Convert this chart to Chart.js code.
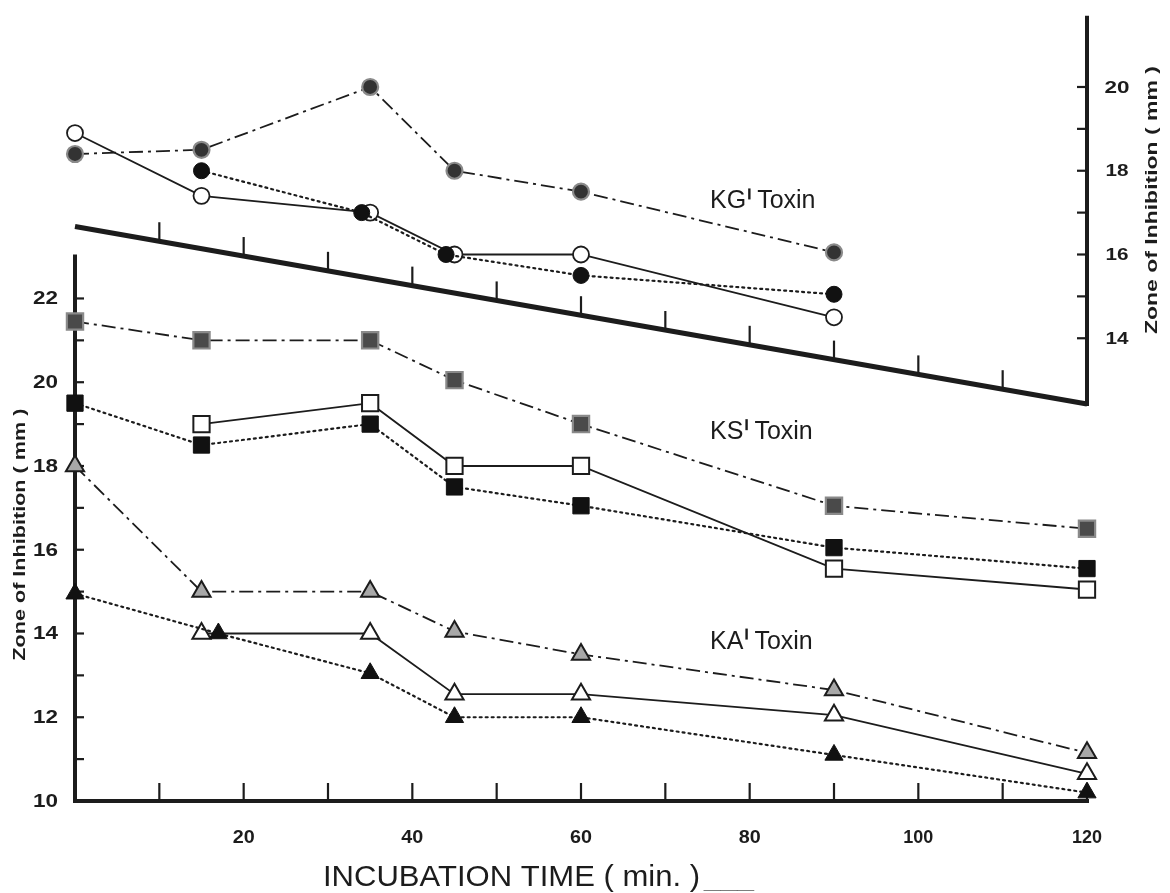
<!DOCTYPE html>
<html>
<head>
<meta charset="utf-8">
<script src="https://cdn.jsdelivr.net/npm/chart.js@4.4.0/dist/chart.umd.min.js"></script>
<style>
  html, body { margin: 0; padding: 0; background: #fff; }
  #wrap { width: 1170px; height: 893px; }
</style>
</head>
<body>
<div id="wrap"><canvas id="chart" width="1170" height="893"></canvas></div>
<script>
// --- data (minutes / zone of inhibition in mm) ---
const kgTimes = [0, 15, 35, 45, 60, 90];
const kgOpen = [18.9, 17.4, 17.0, 16.0, 16.0, 14.5];
const kgGrey = [18.4, 18.5, 20.0, 18.0, 17.5, 16.05];
const kgFilledTimes = [15, 34, 44, 60, 90];
const kgFilled = [18.0, 17.0, 16.0, 15.5, 15.05];

const ksTimes = [0, 15, 35, 45, 60, 90, 120];
const ksGrey = [21.45, 21.0, 21.0, 20.05, 19.0, 17.05, 16.5];
const ksFilled = [19.5, 18.5, 19.0, 17.5, 17.05, 16.05, 15.55];
const ksOpenTimes = [15, 35, 45, 60, 90, 120];
const ksOpen = [19.0, 19.5, 18.0, 18.0, 15.55, 15.05];

const kaTimes = [0, 15, 35, 45, 60, 90, 120];
const kaGrey = [18.0, 15.0, 15.0, 14.05, 13.5, 12.65, 11.15];
const kaFilledTimes = [0, 17, 35, 45, 60, 90, 120];
const kaFilled = [14.95, 14.0, 13.05, 12.0, 12.0, 11.1, 10.2];
const kaOpenTimes = [15, 35, 45, 60, 90, 120];
const kaOpen = [14.0, 14.0, 12.55, 12.55, 12.05, 10.65];

// axis ticks
const xMinorTicks = [10, 20, 30, 40, 50, 60, 70, 80, 90, 100, 110, 120];
const xLabels = [20, 40, 60, 80, 100, 120];
const leftTicks = [11, 12, 13, 14, 15, 16, 17, 18, 19, 20, 21, 22];
const leftLabels = [10, 12, 14, 16, 18, 20, 22];
const rightTicks = [14, 15, 16, 17, 18, 19, 20];
const rightLabels = [14, 16, 18, 20];

const zip = (xs, ys) => xs.map((x, i) => ({ x: x, y: ys[i] }));

const INK = '#1c1c1c';
const SOLID = [];
const DOTTED = [2, 4];
const DASHDOT = [14, 5, 3, 5];

function series(label, data, axis, dash, style, radius, fill, border, bw) {
  return {
    label: label,
    data: data,
    yAxisID: axis,
    borderColor: INK,
    borderWidth: dash === DOTTED ? 2.2 : 1.8,
    borderDash: dash,
    borderCapStyle: dash === DOTTED ? 'round' : 'butt',
    pointStyle: style,
    pointRadius: radius,
    pointBackgroundColor: fill,
    pointBorderColor: border,
    pointBorderWidth: bw,
    tension: 0,
    fill: false,
    clip: false
  };
}

const datasets = [
  series('KG grey', zip(kgTimes, kgGrey), 'y2', DASHDOT, 'circle', 8, '#333', '#8a8a8a', 2.2),
  series('KG filled', zip(kgFilledTimes, kgFilled), 'y2', DOTTED, 'circle', 8, '#111', '#111', 1),
  series('KG open', zip(kgTimes, kgOpen), 'y2', SOLID, 'circle', 8, '#fff', INK, 1.8),

  series('KS grey', zip(ksTimes, ksGrey), 'y', DASHDOT, 'rect', 11.5, '#4a4a4a', '#8a8a8a', 2.2),
  series('KS filled', zip(ksTimes, ksFilled), 'y', DOTTED, 'rect', 11.5, '#111', '#111', 1),
  series('KS open', zip(ksOpenTimes, ksOpen), 'y', SOLID, 'rect', 11.5, '#fff', INK, 2),

  series('KA grey', zip(kaTimes, kaGrey), 'y', DASHDOT, 'triangle', 10.5, '#a8a8a8', INK, 2),
  series('KA filled', zip(kaFilledTimes, kaFilled), 'y', DOTTED, 'triangle', 10.5, '#111', '#111', 1),
  series('KA open', zip(kaOpenTimes, kaOpen), 'y', SOLID, 'triangle', 10.5, '#fff', INK, 2)
];

// draw text squeezed/stretched to a given width
function fitText(ctx, text, x, y, width, font, align) {
  ctx.save();
  ctx.font = font;
  const w = ctx.measureText(text).width;
  const s = width / w;
  ctx.translate(x, y);
  ctx.scale(s, 1);
  ctx.textAlign = align || 'left';
  ctx.fillText(text, 0, 0);
  ctx.restore();
}

const scanAxes = {
  id: 'scanAxes',
  beforeDatasetsDraw(chart) {
    const ctx = chart.ctx;
    const X = v => chart.scales.x.getPixelForValue(v);
    const Y = v => chart.scales.y.getPixelForValue(v);
    const Y2 = v => chart.scales.y2.getPixelForValue(v);
    const slantFrom = 16.67, slantTo = 12.43; // upper (offset) base line, right-axis units
    const slantAt = m => Y2(slantFrom + (slantTo - slantFrom) * m / 120);

    ctx.save();
    ctx.strokeStyle = INK;
    ctx.fillStyle = INK;
    ctx.lineCap = 'butt';

    // lower frame
    ctx.lineWidth = 4;
    ctx.beginPath();
    ctx.moveTo(X(0), Y(23.05));
    ctx.lineTo(X(0), Y(10));
    ctx.lineTo(X(120) + 2, Y(10));
    ctx.stroke();

    ctx.lineWidth = 2.2;
    xMinorTicks.forEach(m => {
      ctx.beginPath();
      ctx.moveTo(X(m), Y(10));
      ctx.lineTo(X(m), Y(10) - 18);
      ctx.stroke();
    });
    leftTicks.forEach(v => {
      ctx.beginPath();
      ctx.moveTo(X(0), Y(v));
      ctx.lineTo(X(0) + 9, Y(v));
      ctx.stroke();
    });

    // upper offset frame for KG
    ctx.lineWidth = 5;
    ctx.beginPath();
    ctx.moveTo(X(0), slantAt(0));
    ctx.lineTo(X(120), slantAt(120));
    ctx.stroke();
    ctx.lineWidth = 4;
    ctx.beginPath();
    ctx.moveTo(X(120), slantAt(120) + 2);
    ctx.lineTo(X(120), Y2(21.7));
    ctx.stroke();
    ctx.lineWidth = 2.2;
    xMinorTicks.slice(0, 11).forEach(m => {
      ctx.beginPath();
      ctx.moveTo(X(m), slantAt(m));
      ctx.lineTo(X(m), slantAt(m) - 19);
      ctx.stroke();
    });
    rightTicks.forEach(v => {
      ctx.beginPath();
      ctx.moveTo(X(120) - 10, Y2(v));
      ctx.lineTo(X(120), Y2(v));
      ctx.stroke();
    });

    // tick labels
    ctx.textBaseline = 'middle';
    leftLabels.forEach(v => {
      fitText(ctx, String(v), X(0) - 17, Y(v) + 1, 25, 'bold 18px "Liberation Sans", Arial, sans-serif', 'right');
    });
    rightLabels.forEach(v => {
      fitText(ctx, String(v), X(120) + 30, Y2(v) + 1, v < 20 ? 23 : 25, 'bold 17px "Liberation Sans", Arial, sans-serif', 'center');
    });
    xLabels.forEach(m => {
      fitText(ctx, String(m), X(m), Y(10) + 37, m < 100 ? 22 : 30, 'bold 18px "Liberation Sans", Arial, sans-serif', 'center');
    });

    // axis titles
    ctx.save();
    ctx.translate(20, Y(16.36));
    ctx.rotate(-Math.PI / 2);
    fitText(ctx, 'Zone of Inhibition ( mm )', 0, 0, 252, 'bold 17px "Liberation Sans", Arial, sans-serif', 'center');
    ctx.restore();
    ctx.save();
    ctx.translate(1152, Y2(17.3));
    ctx.rotate(-Math.PI / 2);
    fitText(ctx, 'Zone of Inhibition ( mm )', 0, 0, 268, 'bold 17px "Liberation Sans", Arial, sans-serif', 'center');
    ctx.restore();

    ctx.textBaseline = 'alphabetic';
    fitText(ctx, 'INCUBATION TIME ( min. )', 323, 886, 377, '29px "Liberation Sans", Arial, sans-serif', 'left');
    ctx.fillStyle = '#666';
    fitText(ctx, '___', 704, 888, 50, '12px "Liberation Sans", Arial, sans-serif', 'left');
    ctx.fillStyle = INK;

    // series labels
    const toxin = (name, x, y) => {
      ctx.font = '25px "Liberation Sans", Arial, sans-serif';
      ctx.textAlign = 'left';
      ctx.fillText(name, x, y);
      const w = ctx.measureText(name).width;
      ctx.fillRect(x + w + 2, y - 20, 2.4, 11);
      ctx.fillText('Toxin', x + w + 11, y);
    };
    toxin('KG', X(75.3), Y2(17.1));
    toxin('KS', X(75.3), Y(18.64));
    toxin('KA', X(75.3), Y(13.64));

    ctx.restore();
  }
};

new Chart(document.getElementById('chart'), {
  type: 'line',
  data: { datasets: datasets },
  options: {
    responsive: false,
    animation: false,
    layout: { padding: { left: 75, right: 83, top: 12, bottom: 92 } },
    plugins: { legend: { display: false }, tooltip: { enabled: false } },
    scales: {
      x: { type: 'linear', min: 0, max: 120, display: false },
      y: { min: 10, max: 28.8, display: false },
      y2: { min: 2.95, max: 21.75, display: false, position: 'right' }
    }
  },
  plugins: [scanAxes]
});
</script>
</body>
</html>
